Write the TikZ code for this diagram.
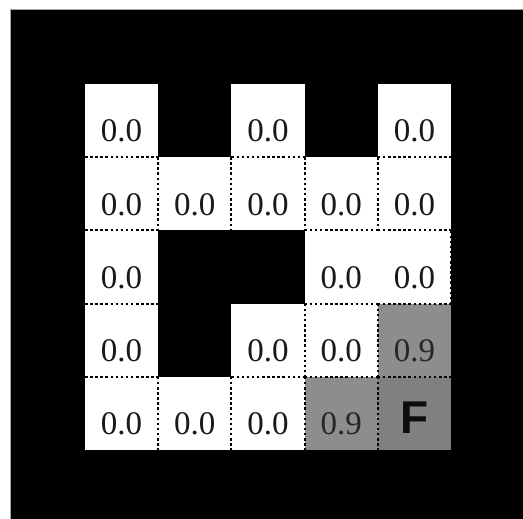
\documentclass[tikz,border=0pt]{standalone}
\usepackage{fontspec}
\setmainfont{Liberation Serif}
\newfontfamily\fsans{Liberation Sans}
\definecolor{gnine}{RGB}{141,141,141}
\definecolor{gfin}{RGB}{128,128,128}
\begin{document}
\begin{tikzpicture}[x=1pt,y=-1pt,
  cell/.style={minimum width=73.2pt, minimum height=73.2pt, inner sep=0pt, outer sep=0pt, anchor=north west},
  wcell/.style={cell, fill=white},
  gcell/.style={cell, fill=gnine},
  fcell/.style={cell, fill=gfin},
  val/.style={anchor=base, font=\fontsize{33}{36}\selectfont, inner sep=0pt, text=black!90},
  gval/.style={val, text=black!85},
  fval/.style={anchor=base, font=\fsans\bfseries\fontsize{46}{50}\selectfont, inner sep=0pt, text=black!95},
  sepline/.style={draw=black, line width=1.9pt, dash pattern=on 2.5pt off 2.6pt}]
\useasboundingbox (0,0) rectangle (523,519);
\fill[white] (0,0) rectangle (523,519);
\fill[black] (10,9) rectangle (523,519);
\draw[gray!70, line width=0.6pt] (10,519) -- (10,9) -- (523,9);
% cells
\foreach \r/\c/\s/\t in {1/1/wcell/val, 1/3/wcell/val, 1/5/wcell/val,
  2/1/wcell/val, 2/2/wcell/val, 2/3/wcell/val, 2/4/wcell/val, 2/5/wcell/val,
  3/1/wcell/val, 3/4/wcell/val, 3/5/wcell/val,
  4/1/wcell/val, 4/3/wcell/val, 4/4/wcell/val,
  5/1/wcell/val, 5/2/wcell/val, 5/3/wcell/val}{
  \node[\s] (c\r\c) at ({85+73.2*(\c-1)},{84+73.2*(\r-1)}) {};
  \node[\t] (t\r\c) at ({85+73.2*(\c-1)+36.6},{84+73.2*(\r-1)+58}) {0.0};
}
\node[gcell] (c45) at ({85+73.2*4},{84+73.2*3}) {};
\node[gval] (t45) at ({85+73.2*4+36.6},{84+73.2*3+58}) {0.9};
\node[gcell] (c54) at ({85+73.2*3},{84+73.2*4}) {};
\node[gval] (t54) at ({85+73.2*3+36.6},{84+73.2*4+58}) {0.9};
\node[fcell] (c55) at ({85+73.2*4},{84+73.2*4}) {};
\node[fval] (t55) at ({85+73.2*4+36.6},{84+73.2*4+57}) {F};
% horizontal separators (below cell r,c)
\foreach \n in {11,13,15,21,24,25,31,34,35,41,43,44,45}{
  \draw[sepline] (c\n.south west) -- (c\n.south east);
}
% vertical separators (right of cell r,c)
\foreach \n in {21,22,23,24,35,43,44,51,52,53,54}{
  \draw[sepline] (c\n.north east) -- (c\n.south east);
}
\end{tikzpicture}
\end{document}
